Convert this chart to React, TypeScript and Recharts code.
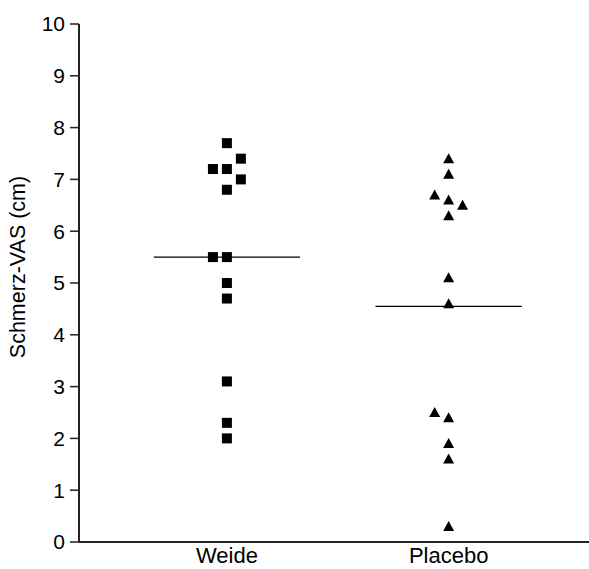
import React from 'react';
import { ScatterChart, Scatter, XAxis, YAxis, ReferenceLine, Label } from 'recharts';

// groups on the x axis
const groups = ['Weide', 'Placebo'];
const groupPos = [1, 2];

// pain scores, with their side-by-side column (-1 left, 0 centre, 1 right)
const weideValues = [7.7, 7.4, 7.2, 7.2, 7.0, 6.8, 5.5, 5.5, 5.0, 4.7, 3.1, 2.3, 2.0];
const weideColumn = [0, 1, -1, 0, 1, 0, -1, 0, 0, 0, 0, 0, 0];
const placeboValues = [7.4, 7.1, 6.7, 6.6, 6.5, 6.3, 5.1, 4.6, 2.5, 2.4, 1.9, 1.6, 0.3];
const placeboColumn = [0, 0, -1, 0, 1, 0, 0, 0, -1, 0, 0, 0, 0];

// group means (horizontal lines)
const groupMeans = [5.5, 4.55];

const yTicks = [0, 1, 2, 3, 4, 5, 6, 7, 8, 9, 10];

const COL_STEP = 0.063;
const LINE_HALF = 0.33;
const FONT = '"Liberation Sans", Arial, sans-serif';

const toPoints = (pos: number, values: number[], cols: number[]) =>
  values.map((v, i) => ({ x: pos + cols[i] * COL_STEP, y: v }));

const weideData = toPoints(groupPos[0], weideValues, weideColumn);
const placeboData = toPoints(groupPos[1], placeboValues, placeboColumn);

const SquareDot = (props: any) => {
  const { cx, cy } = props;
  return <rect x={cx - 5} y={cy - 5} width={10} height={10} fill="#000" />;
};

const TriangleDot = (props: any) => {
  const { cx, cy } = props;
  return <polygon points={`${cx},${cy - 5.5} ${cx + 5.5},${cy + 4.5} ${cx - 5.5},${cy + 4.5}`} fill="#000" />;
};

export default function App() {
  return (
    <div style={{ position: 'absolute', left: 0, top: 0, background: '#fff' }}>
      <ScatterChart width={589} height={569} margin={{ top: 24, right: 0, bottom: 0, left: 0 }}>
        <XAxis
          type="number"
          dataKey="x"
          domain={[0.333, 2.633]}
          ticks={groupPos}
          tickFormatter={(v: number) => groups[groupPos.indexOf(v)] ?? ''}
          height={27}
          tickLine={false}
          tickSize={0}
          tickMargin={5}
          axisLine={{ stroke: '#222', strokeWidth: 2 }}
          tick={{ fill: '#000', fontSize: 22, fontFamily: FONT }}
          allowDataOverflow
        />
        <YAxis
          type="number"
          dataKey="y"
          domain={[0, 10]}
          ticks={yTicks}
          interval={0}
          width={79}
          tickSize={9}
          tickMargin={5}
          axisLine={{ stroke: '#222', strokeWidth: 2 }}
          tickLine={{ stroke: '#222', strokeWidth: 1.5 }}
          tick={{ fill: '#000', fontSize: 21, fontFamily: FONT }}
        >
          <Label
            content={() => (
              <text
                x={18}
                y={267}
                transform="rotate(-90, 18, 267)"
                textAnchor="middle"
                dominantBaseline="central"
                fill="#000"
                fontSize={21.5}
                fontFamily={FONT}
              >
                Schmerz-VAS (cm)
              </text>
            )}
          />
        </YAxis>
        {groupPos.map((p, i) => (
          <ReferenceLine
            key={groups[i]}
            segment={[
              { x: p - LINE_HALF, y: groupMeans[i] },
              { x: p + LINE_HALF, y: groupMeans[i] },
            ]}
            stroke="#000"
            strokeWidth={1.3}
          />
        ))}
        <Scatter data={weideData} shape={SquareDot} isAnimationActive={false} />
        <Scatter data={placeboData} shape={TriangleDot} isAnimationActive={false} />
      </ScatterChart>
    </div>
  );
}
